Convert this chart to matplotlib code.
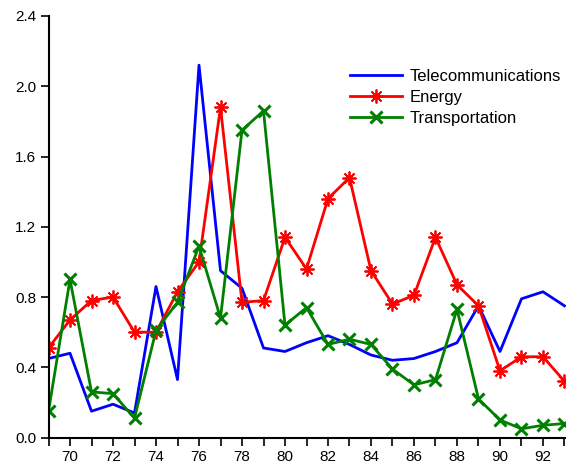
import numpy as np
import matplotlib
matplotlib.use("Agg")
import matplotlib.pyplot as plt

plt.rcParams['font.family'] = ['Liberation Sans', 'DejaVu Sans']

years = np.arange(69, 94)
telecom = [0.45, 0.48, 0.15, 0.19, 0.14, 0.86, 0.33, 2.12, 0.95, 0.85,
           0.51, 0.49, 0.54, 0.58, 0.53, 0.47, 0.44, 0.45, 0.49, 0.54,
           0.75, 0.49, 0.79, 0.83, 0.75]
energy = [0.51, 0.67, 0.78, 0.80, 0.60, 0.60, 0.83, 1.00, 1.88, 0.77,
          0.78, 1.14, 0.96, 1.36, 1.48, 0.95, 0.76, 0.81, 1.14, 0.87,
          0.75, 0.38, 0.46, 0.46, 0.32]
transport = [0.15, 0.90, 0.26, 0.25, 0.11, 0.61, 0.77, 1.09, 0.68, 1.75,
             1.86, 0.64, 0.74, 0.53, 0.56, 0.53, 0.39, 0.30, 0.33, 0.73,
             0.22, 0.10, 0.05, 0.07, 0.08]

fig = plt.figure(figsize=(5.66, 4.70), dpi=100)
ax = fig.add_axes([0.0857, 0.069, 0.9143, 0.897])

ax.plot(years, telecom, color='blue', lw=2, label='Telecommunications')
ax.plot(years, energy, color='red', lw=2, marker=(8, 2, 0), ms=10, mew=1.3,
        label='Energy')
ax.plot(years, transport, color='green', lw=2, marker='x', ms=8, mew=2.2,
        label='Transportation')

ax.set_xlim(69, 93.07)
ax.set_ylim(0, 2.4)
ax.set_yticks(np.arange(0, 2.41, 0.4))
ax.set_yticklabels(['%.1f' % v for v in np.arange(0, 2.41, 0.4)])
ax.set_xticks(years)
ax.set_xticklabels([str(y) if y % 2 == 0 else '' for y in years])

for side in ['top', 'right']:
    ax.spines[side].set_visible(False)
for side in ['left', 'bottom']:
    ax.spines[side].set_linewidth(1.5)
ax.tick_params(direction='out', length=6, width=1.2, labelsize=11, pad=3)

ax.legend(loc='upper left', bbox_to_anchor=(0.583, 0.874), frameon=False,
          fontsize=12, handlelength=3.1, labelspacing=0.36, borderpad=0,
          borderaxespad=0, handletextpad=0.48)

fig.savefig('out.png', dpi=100)
